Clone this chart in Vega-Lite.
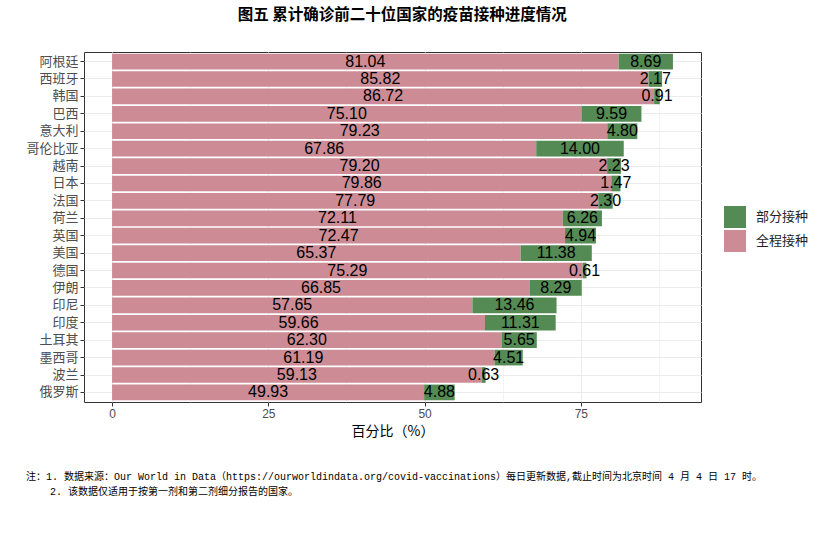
{
  "$schema": "https://vega.github.io/schema/vega-lite/v6.json",
  "padding": {"left": 25, "top": 8, "right": 5, "bottom": 5},
  "title": {
    "text": "图五 累计确诊前二十位国家的疫苗接种进度情况",
    "font": "Noto Sans CJK SC",
    "fontSize": 15.5,
    "fontWeight": "bold",
    "color": "#000000",
    "anchor": "middle",
    "offset": 28,
    "dx": -15
  },
  "config": {
    "font": "Noto Sans CJK SC",
    "view": {"stroke": "#333333", "strokeWidth": 1}
  },
  "vconcat": [
    {
      "width": 617,
      "height": 350,
      "title": {
        "text": [
          "注：1. 数据来源：Our World in Data（https://ourworldindata.org/covid-vaccinations）每日更新数据,截止时间为北京时间 4 月 4 日 17 时。",
          "\u200b\u00a0\u00a0\u00a0\u00a02. 该数据仅适用于按第一剂和第二剂细分报告的国家。"
        ],
        "orient": "bottom",
        "anchor": "start",
        "frame": "bounds",
        "font": "Liberation Mono, Noto Sans CJK SC",
        "fontSize": 10,
        "fontWeight": "normal",
        "lineHeight": 15,
        "color": "#000000",
        "offset": 34
      },
      "data": {
        "values": [
          {"country": "阿根廷", "type": "全程接种", "value": 81.04},
          {"country": "阿根廷", "type": "部分接种", "value": 8.69},
          {"country": "西班牙", "type": "全程接种", "value": 85.82},
          {"country": "西班牙", "type": "部分接种", "value": 2.17},
          {"country": "韩国", "type": "全程接种", "value": 86.72},
          {"country": "韩国", "type": "部分接种", "value": 0.91},
          {"country": "巴西", "type": "全程接种", "value": 75.10},
          {"country": "巴西", "type": "部分接种", "value": 9.59},
          {"country": "意大利", "type": "全程接种", "value": 79.23},
          {"country": "意大利", "type": "部分接种", "value": 4.80},
          {"country": "哥伦比亚", "type": "全程接种", "value": 67.86},
          {"country": "哥伦比亚", "type": "部分接种", "value": 14.00},
          {"country": "越南", "type": "全程接种", "value": 79.20},
          {"country": "越南", "type": "部分接种", "value": 2.23},
          {"country": "日本", "type": "全程接种", "value": 79.86},
          {"country": "日本", "type": "部分接种", "value": 1.47},
          {"country": "法国", "type": "全程接种", "value": 77.79},
          {"country": "法国", "type": "部分接种", "value": 2.30},
          {"country": "荷兰", "type": "全程接种", "value": 72.11},
          {"country": "荷兰", "type": "部分接种", "value": 6.26},
          {"country": "英国", "type": "全程接种", "value": 72.47},
          {"country": "英国", "type": "部分接种", "value": 4.94},
          {"country": "美国", "type": "全程接种", "value": 65.37},
          {"country": "美国", "type": "部分接种", "value": 11.38},
          {"country": "德国", "type": "全程接种", "value": 75.29},
          {"country": "德国", "type": "部分接种", "value": 0.61},
          {"country": "伊朗", "type": "全程接种", "value": 66.85},
          {"country": "伊朗", "type": "部分接种", "value": 8.29},
          {"country": "印尼", "type": "全程接种", "value": 57.65},
          {"country": "印尼", "type": "部分接种", "value": 13.46},
          {"country": "印度", "type": "全程接种", "value": 59.66},
          {"country": "印度", "type": "部分接种", "value": 11.31},
          {"country": "土耳其", "type": "全程接种", "value": 62.30},
          {"country": "土耳其", "type": "部分接种", "value": 5.65},
          {"country": "墨西哥", "type": "全程接种", "value": 61.19},
          {"country": "墨西哥", "type": "部分接种", "value": 4.51},
          {"country": "波兰", "type": "全程接种", "value": 59.13},
          {"country": "波兰", "type": "部分接种", "value": 0.63},
          {"country": "俄罗斯", "type": "全程接种", "value": 49.93},
          {"country": "俄罗斯", "type": "部分接种", "value": 4.88}
        ]
      },
      "transform": [
        {"stack": "value", "groupby": ["country"], "sort": [{"field": "type", "order": "ascending"}], "as": ["v0", "v1"]},
        {"calculate": "(datum.v0 + datum.v1) / 2", "as": "mid"}
      ],
      "encoding": {
        "y": {
          "field": "country",
          "type": "nominal",
          "sort": ["阿根廷", "西班牙", "韩国", "巴西", "意大利", "哥伦比亚", "越南", "日本", "法国", "荷兰", "英国", "美国", "德国", "伊朗", "印尼", "印度", "土耳其", "墨西哥", "波兰", "俄罗斯"],
          "scale": {"paddingInner": 0.1, "paddingOuter": 0.1},
          "axis": {
            "title": null,
            "domain": false,
            "grid": true,
            "bandPosition": 0.5,
            "gridColor": "#ebebeb",
            "gridWidth": 1,
            "tickColor": "#333333",
            "tickSize": 4,
            "labelFontSize": 13,
            "labelColor": "#4d4d4d",
            "labelPadding": 2
          }
        }
      },
      "layer": [
        {
          "mark": {"type": "bar"},
          "encoding": {
            "x": {
              "field": "v0",
              "type": "quantitative",
              "scale": {"domain": [-4.49, 94.22], "nice": false, "zero": false},
              "axis": {
                "values": [0, 25, 50, 75],
                "domain": false,
                "grid": true,
                "gridColor": "#ebebeb",
                "gridWidth": 1,
                "tickColor": "#333333",
                "tickSize": 4,
                "labelFont": "Liberation Sans",
                "labelFontSize": 12,
                "labelColor": "#4d4d4d",
                "labelPadding": 2,
                "title": "百分比（%）",
                "titleFontSize": 14,
                "titleFontWeight": "normal",
                "titleColor": "#000000",
                "titlePadding": 5
              }
            },
            "x2": {"field": "v1"},
            "color": {
              "field": "type",
              "type": "nominal",
              "scale": {"domain": ["部分接种", "全程接种"], "range": ["#548B54", "#CD8C95"]},
              "legend": {
                "title": null,
                "orient": "none",
                "legendX": 640,
                "legendY": 154,
                "symbolType": "square",
                "symbolSize": 484,
                "symbolStrokeWidth": 0,
                "labelFontSize": 13,
                "labelColor": "#222222",
                "labelOffset": 10,
                "rowPadding": 2
              }
            }
          }
        },
        {
          "mark": {"type": "text", "font": "Liberation Sans", "fontSize": 16, "color": "#000000", "baseline": "middle"},
          "encoding": {
            "x": {
              "field": "mid",
              "type": "quantitative",
              "scale": {"domain": [-4.49, 94.22], "nice": false, "zero": false},
              "axis": {
                "orient": "top",
                "values": [12.5, 37.5, 62.5, 87.5],
                "domain": false,
                "labels": false,
                "ticks": false,
                "grid": true,
                "gridColor": "#ebebeb",
                "gridWidth": 0.6,
                "title": null
              }
            },
            "text": {"field": "value", "type": "quantitative", "format": ".2f"}
          }
        }
      ],
      "resolve": {"axis": {"x": "independent"}}
    }
  ]
}
